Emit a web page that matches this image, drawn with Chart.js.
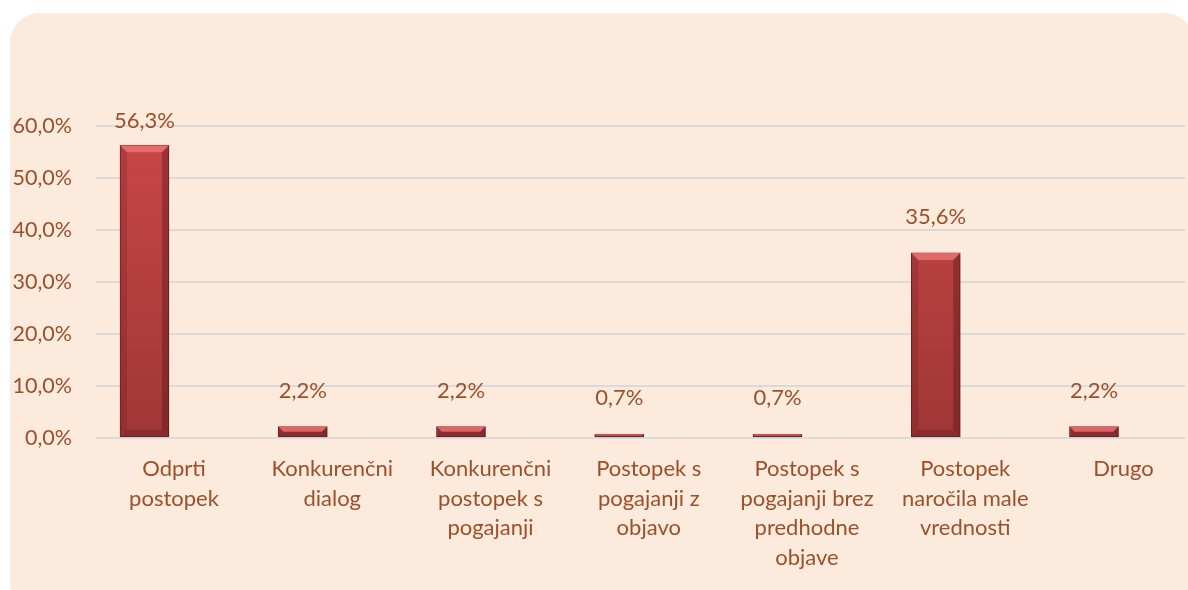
<!DOCTYPE html>
<html>
<head>
<meta charset="utf-8">
<script src="https://cdn.jsdelivr.net/npm/chart.js@4/dist/chart.umd.min.js"></script>
<style>
  html, body { margin: 0; padding: 0; background: #ffffff; }
  #wrap { position: relative; width: 1188px; height: 590px; overflow: hidden; }
  #panel { position: absolute; left: 10px; top: 13px; width: 1184px; height: 600px;
           background: #FCEADC; border-radius: 30px; }
  canvas { position: absolute; left: 0; top: 0; }
</style>
</head>
<body>
<div id="wrap">
  <div id="panel"></div>
  <canvas id="c" width="1188" height="590"></canvas>
</div>
<script>
const categories = [
  ["Odprti", "postopek"],
  ["Konkurenčni", "dialog"],
  ["Konkurenčni", "postopek s", "pogajanji"],
  ["Postopek s", "pogajanji z", "objavo"],
  ["Postopek s", "pogajanji brez", "predhodne", "objave"],
  ["Postopek", "naročila male", "vrednosti"],
  ["Drugo"]
];
const values = [56.3, 2.2, 2.2, 0.7, 0.7, 35.6, 2.2];
const valueLabels = ["56,3%", "2,2%", "2,2%", "0,7%", "0,7%", "35,6%", "2,2%"];
const yTickLabels = ["0,0%", "10,0%", "20,0%", "30,0%", "40,0%", "50,0%", "60,0%"];

const TEXT = '#9C502A';
const FONT = 'Lato, "Open Sans", sans-serif';

const points = values.map((v, i) => ({ x: i, y: v }));

const labelPlugin = {
  id: 'valueLabels',
  afterDatasetsDraw(chart) {
    const ctx = chart.ctx;
    const meta = chart.getDatasetMeta(0);
    ctx.save();
    meta.data.forEach((bar) => {
      const w = bar.width, x0 = bar.x - w / 2, x1 = bar.x + w / 2;
      const top = bar.y, bot = bar.base;
      const h = bot - top;
      const b = Math.min(7, h / 2);
      if (h < 1) return;
      ctx.fillStyle = 'rgba(240,120,120,0.75)';
      ctx.beginPath();
      ctx.moveTo(x0, top); ctx.lineTo(x1, top); ctx.lineTo(x1 - b, top + b); ctx.lineTo(x0 + b, top + b);
      ctx.closePath(); ctx.fill();
      ctx.fillStyle = 'rgba(60,10,10,0.3)';
      ctx.beginPath();
      ctx.moveTo(x1, top); ctx.lineTo(x1, bot); ctx.lineTo(x1 - b, bot - b); ctx.lineTo(x1 - b, top + b);
      ctx.closePath(); ctx.fill();
      ctx.fillStyle = 'rgba(90,20,20,0.2)';
      ctx.beginPath();
      ctx.moveTo(x0, top); ctx.lineTo(x0 + b, top + b); ctx.lineTo(x0 + b, bot - b); ctx.lineTo(x0, bot);
      ctx.closePath(); ctx.fill();
      ctx.fillStyle = 'rgba(70,15,15,0.25)';
      ctx.beginPath();
      ctx.moveTo(x0, bot); ctx.lineTo(x0 + b, bot - b); ctx.lineTo(x1 - b, bot - b); ctx.lineTo(x1, bot);
      ctx.closePath(); ctx.fill();
    });
    ctx.fillStyle = TEXT;
    ctx.font = '22px ' + FONT;
    ctx.textAlign = 'center';
    ctx.textBaseline = 'middle';
    const top = chart.chartArea.top;
    meta.data.forEach((bar, i) => {
      ctx.fillText(valueLabels[i], bar.x, Math.max(bar.y - 36, top - 5));
    });
    ctx.restore();
  }
};

function barFill(context) {
  const chart = context.chart;
  const ca = chart.chartArea;
  if (!ca) return '#B94242';
  const g = chart.ctx.createLinearGradient(0, ca.top, 0, ca.bottom);
  g.addColorStop(0, '#C94747');
  g.addColorStop(1, '#A03636');
  return g;
}

new Chart(document.getElementById('c'), {
  type: 'bar',
  data: {
    datasets: [{
      data: points,
      backgroundColor: barFill,
      borderColor: '#6E2222',
      borderWidth: 1,
      borderSkipped: false,
      barThickness: 49
    }]
  },
  options: {
    responsive: false,
    animation: false,
    events: [],
    layout: { padding: { top: 126, right: 3, left: 0, bottom: 0 } },
    plugins: { legend: { display: false }, tooltip: { enabled: false } },
    scales: {
      x: {
        type: 'linear',
        offset: false,
        min: -0.3065,
        max: 6.575,
        grid: { display: false, drawTicks: false, offset: false },
        border: { display: false },
        afterFit(scale) { scale.height = 152; },
        ticks: {
          stepSize: 1,
          includeBounds: false,
          autoSkip: false,
          maxRotation: 0,
          padding: 16,
          labelOffset: 29.5,
          color: TEXT,
          font: { family: FONT, size: 22, lineHeight: 1.35 },
          callback: (v) => (Number.isInteger(v) && categories[v]) ? categories[v] : ''
        }
      },
      y: {
        min: 0,
        max: 60,
        grid: { color: '#D9D9DE', lineWidth: 2, drawTicks: false },
        border: { display: false },
        afterFit(scale) { scale.width = 96; },
        ticks: {
          stepSize: 10,
          padding: 24,
          color: TEXT,
          font: { family: FONT, size: 21.5 },
          callback: (v) => yTickLabels[Math.round(v / 10)]
        }
      }
    }
  },
  plugins: [labelPlugin]
});
</script>
</body>
</html>
